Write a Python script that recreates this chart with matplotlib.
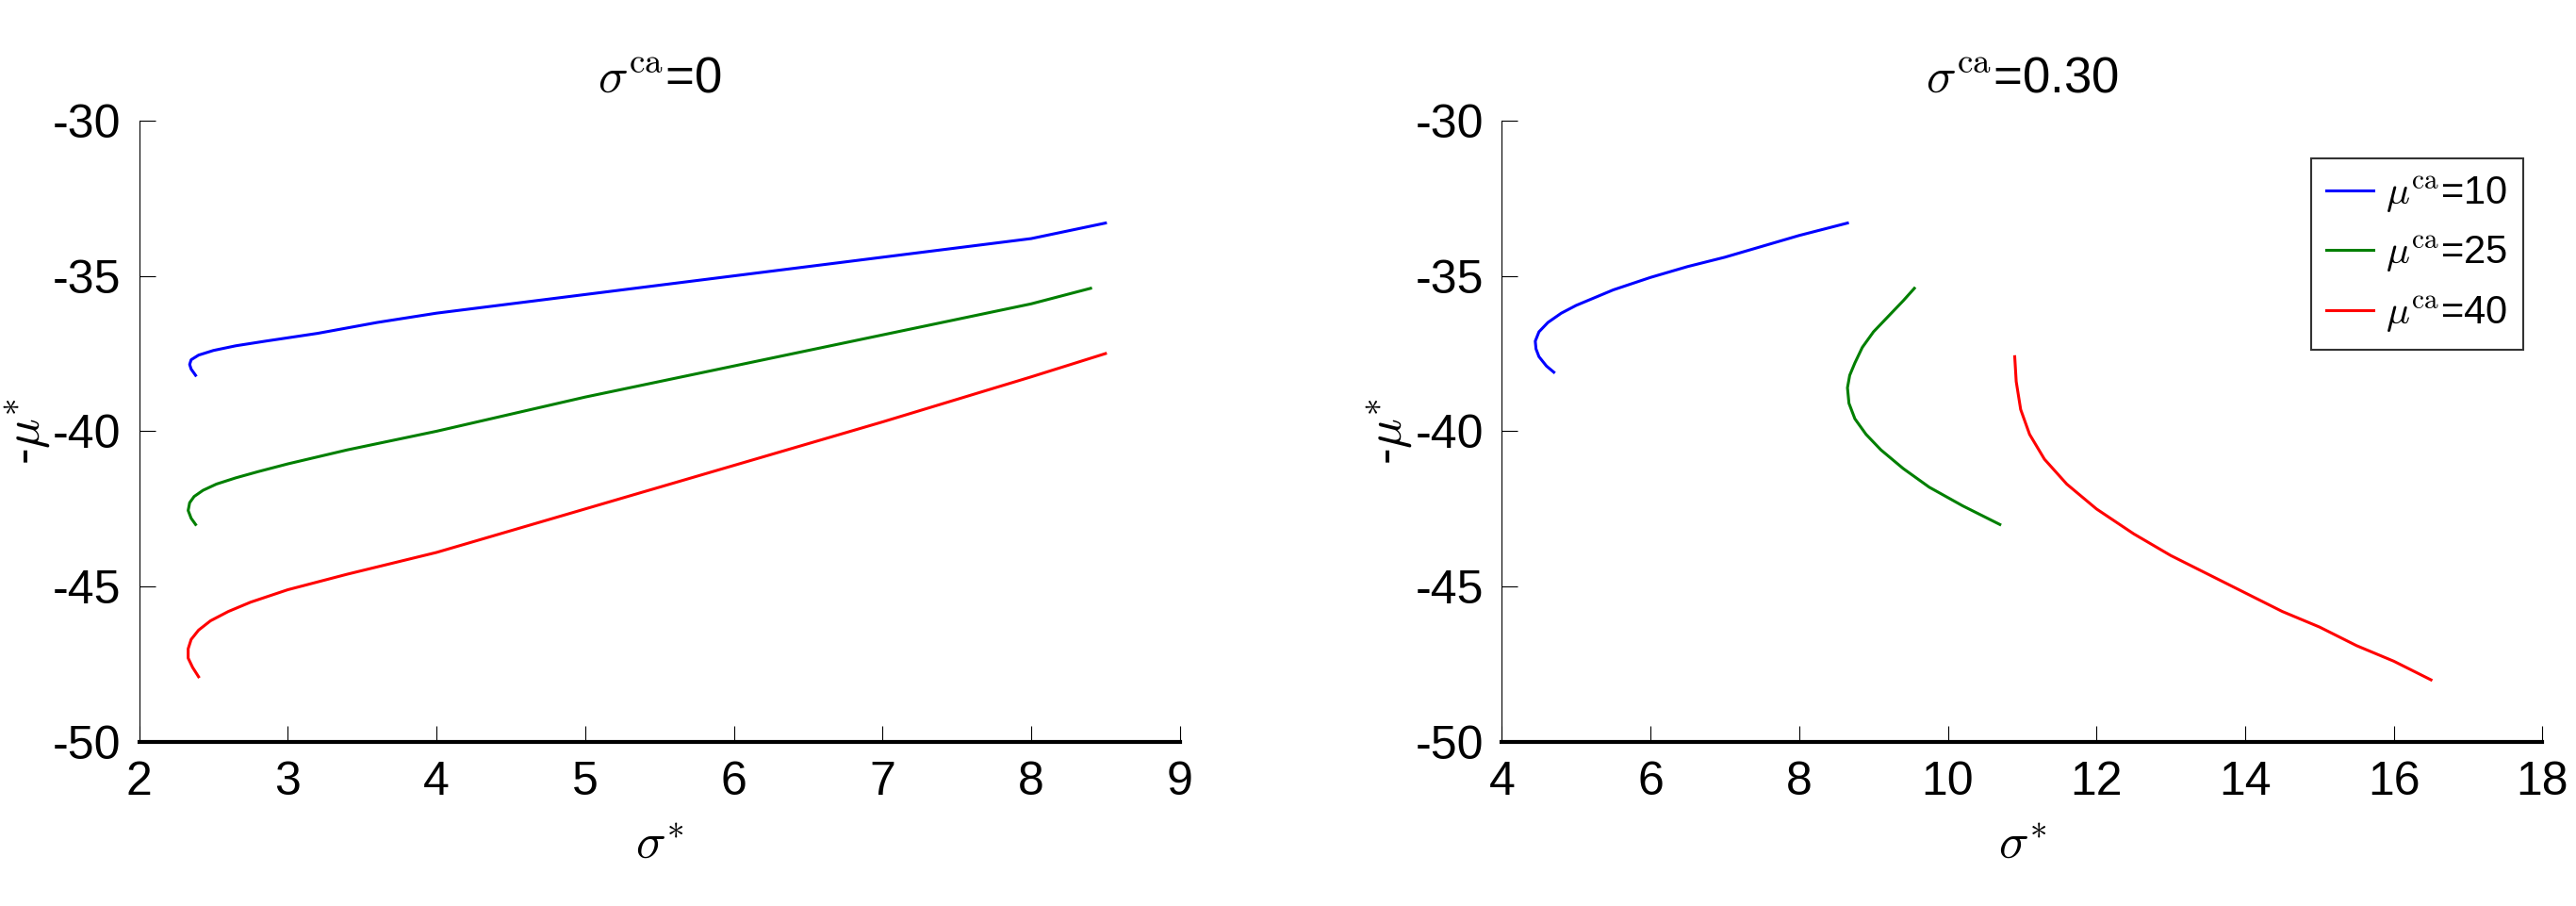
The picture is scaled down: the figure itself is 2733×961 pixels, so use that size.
import matplotlib
matplotlib.use("Agg")
import matplotlib.pyplot as plt

plt.rcParams["font.family"] = ["Liberation Sans", "DejaVu Sans"]
plt.rcParams["mathtext.fontset"] = "cm"
plt.rcParams["axes.unicode_minus"] = False

# sigma_ca = 0 panel
left_blue_x = [2.38, 2.35, 2.34, 2.35, 2.40, 2.50, 2.65, 2.85, 3.2, 3.6, 4.0, 5.0, 6.0, 7.0, 8.0, 8.5]
left_blue_y = [-38.2, -38.0, -37.85, -37.7, -37.55, -37.4, -37.25, -37.1, -36.85, -36.5, -36.2, -35.6, -35.0, -34.4, -33.8, -33.3]
left_green_x = [2.38, 2.35, 2.33, 2.34, 2.37, 2.43, 2.52, 2.65, 2.8, 3.0, 3.4, 4.0, 5.0, 6.0, 7.0, 8.0, 8.4]
left_green_y = [-43.0, -42.8, -42.55, -42.3, -42.1, -41.9, -41.7, -41.5, -41.3, -41.05, -40.6, -40.0, -38.9, -37.9, -36.9, -35.9, -35.4]
left_red_x = [2.40, 2.36, 2.33, 2.33, 2.35, 2.40, 2.48, 2.60, 2.75, 3.0, 3.4, 4.0, 5.0, 6.0, 7.0, 8.0, 8.5]
left_red_y = [-47.9, -47.6, -47.3, -47.0, -46.7, -46.4, -46.1, -45.8, -45.5, -45.1, -44.6, -43.9, -42.5, -41.1, -39.7, -38.25, -37.5]

# sigma_ca = 0.30 panel
right_blue_x = [4.70, 4.60, 4.50, 4.46, 4.45, 4.50, 4.62, 4.80, 5.0, 5.5, 6.0, 6.5, 7.0, 7.5, 8.0, 8.65]
right_blue_y = [-38.1, -37.9, -37.6, -37.35, -37.1, -36.8, -36.5, -36.2, -35.95, -35.45, -35.05, -34.7, -34.4, -34.05, -33.7, -33.3]
right_green_x = [9.55, 9.40, 9.20, 9.00, 8.85, 8.75, 8.68, 8.65, 8.67, 8.75, 8.90, 9.10, 9.40, 9.75, 10.2, 10.7]
right_green_y = [-35.4, -35.8, -36.3, -36.8, -37.3, -37.8, -38.2, -38.6, -39.1, -39.6, -40.1, -40.6, -41.2, -41.8, -42.4, -43.0]
right_red_x = [10.9, 10.92, 10.98, 11.1, 11.3, 11.6, 12.0, 12.5, 13.0, 13.5, 14.0, 14.5, 15.0, 15.5, 16.0, 16.5]
right_red_y = [-37.6, -38.4, -39.3, -40.1, -40.9, -41.7, -42.5, -43.3, -44.0, -44.6, -45.2, -45.8, -46.3, -46.9, -47.4, -48.0]

labels = [r"$\mu^{\rm ca}$=10", r"$\mu^{\rm ca}$=25", r"$\mu^{\rm ca}$=40"]
colors = ["#0000ff", "#007f00", "#ff0000"]

fig = plt.figure(figsize=(27.33, 9.61), dpi=100)
ax1 = fig.add_axes([0.054, 0.181, 0.404, 0.686])
ax2 = fig.add_axes([0.583, 0.181, 0.404, 0.686])

left = [(left_blue_x, left_blue_y), (left_green_x, left_green_y), (left_red_x, left_red_y)]
right = [(right_blue_x, right_blue_y), (right_green_x, right_green_y), (right_red_x, right_red_y)]

for ax, series, title in [(ax1, left, r"$\sigma^{\rm ca}$=0"), (ax2, right, r"$\sigma^{\rm ca}$=0.30")]:
    for (x, y), c, lab in zip(series, colors, labels):
        ax.plot(x, y, color=c, lw=2.2, label=lab)
    ax.set_ylim(-50, -30)
    ax.set_yticks([-50, -45, -40, -35, -30])
    ax.spines["top"].set_visible(False)
    ax.spines["right"].set_visible(False)
    ax.spines["bottom"].set_linewidth(3)
    ax.tick_params(axis="both", direction="in", labelsize=36, length=12, pad=14)
    ax.set_xlabel(r"$\sigma^{*}$", fontsize=38, labelpad=14)
    ax.set_ylabel(r"-$\mu^{*}$", fontsize=38, labelpad=0)
    ax.set_title(title, fontsize=38, pad=22)

ax1.set_xlim(2, 9)
ax1.set_xticks(range(2, 10))
ax2.set_xlim(4, 18)
ax2.set_xticks(range(4, 19, 2))

leg = ax2.legend(loc="upper right", bbox_to_anchor=(1.0, 0.97), fontsize=30,
                 frameon=True, fancybox=False, handlelength=1.2, handletextpad=0.3,
                 borderpad=0.4, labelspacing=0.5)
leg.get_frame().set_edgecolor("black")
leg.get_frame().set_linewidth(1.5)

fig.savefig("out.png", dpi=100)
